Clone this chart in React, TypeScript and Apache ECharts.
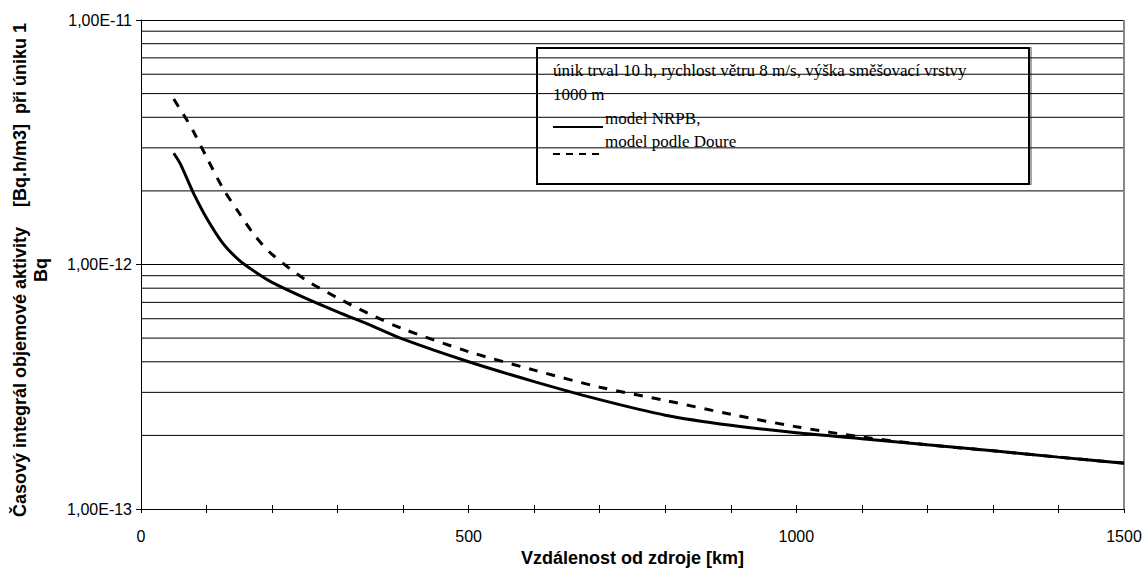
import React, { useEffect, useRef } from "react";
import * as echarts from "echarts";

const distanceKm = [50, 60, 70, 80, 100, 125, 150, 175, 200, 250, 300, 350, 400, 500, 600, 700, 800, 900, 1000, 1100, 1200, 1300, 1400, 1500];
const nrpbValues = [2.85e-12, 2.58e-12, 2.25e-12, 1.96e-12, 1.55e-12, 1.22e-12, 1.04e-12, 9.3e-13, 8.45e-13, 7.3e-13, 6.4e-13, 5.65e-13, 4.95e-13, 4.0e-13, 3.32e-13, 2.8e-13, 2.42e-13, 2.2e-13, 2.05e-13, 1.94e-13, 1.83e-13, 1.73e-13, 1.63e-13, 1.54e-13];
const doureValues = [4.75e-12, 4.3e-12, 3.9e-12, 3.5e-12, 2.75e-12, 2.05e-12, 1.62e-12, 1.3e-12, 1.1e-12, 8.7e-13, 7.3e-13, 6.25e-13, 5.45e-13, 4.4e-13, 3.7e-13, 3.15e-13, 2.78e-13, 2.44e-13, 2.17e-13, 1.97e-13, 1.83e-13, 1.73e-13, 1.63e-13, 1.54e-13];
const minorGridValues = [2e-13, 3e-13, 4e-13, 5e-13, 6e-13, 7e-13, 8e-13, 9e-13, 2e-12, 3e-12, 4e-12, 5e-12, 6e-12, 7e-12, 8e-12, 9e-12];
const xRange = [0, 1500];
const yRange = [1e-13, 1e-11];
const seriesNames = ["model NRPB,", "model podle Doure"];
const legendHeader = ["únik trval 10 h, rychlost větru 8 m/s, výška směšovací vrstvy", "1000 m"];
const yTitle = "Časový integrál objemové aktivity\u00a0\u00a0\u00a0\u00a0[Bq.h/m3]\u00a0\u00a0při úniku 1\nBq";
const xTitle = "Vzdálenost od zdroje [km]";

const SANS = "'Liberation Sans', Arial, sans-serif";
const SERIF = "'Liberation Serif', 'Times New Roman', serif";

function fmtSci(v: number): string {
  const e = Math.round(Math.log10(v));
  const m = v / Math.pow(10, e);
  return m.toFixed(2).replace(".", ",") + "E" + (e < 0 ? "-" : "+") + String(Math.abs(e)).padStart(2, "0");
}

export default function App() {
  const ref = useRef<HTMLDivElement>(null);
  useEffect(() => {
    document.body.style.margin = "0";
    if (!ref.current) return;
    const chart = echarts.init(ref.current, undefined, { renderer: "svg" });
    const xAxisBase = {
      type: "value" as const,
      min: xRange[0],
      max: xRange[1],
      interval: 500,
      position: "bottom" as const,
      splitLine: { show: false },
    };
    const gridSeries = minorGridValues.map((v) => ({
      type: "line",
      silent: true,
      showSymbol: false,
      data: [[xRange[0], v], [xRange[1], v]],
      lineStyle: { color: "#000", width: 1 },
      z: 1,
    }));
    const borderSeries = {
      type: "line",
      silent: true,
      showSymbol: false,
      data: [[xRange[1], yRange[0]], [xRange[1], yRange[1]]],
      lineStyle: { color: "#888", width: 2 },
      z: 1,
    };
    chart.setOption({
      animation: false,
      backgroundColor: "#fff",
      grid: { left: 141, right: 22, top: 20, bottom: 61, containLabel: false, outerBoundsMode: "none" },
      xAxis: [
        {
          ...xAxisBase,
          axisLine: { show: true, lineStyle: { color: "#000", width: 1 } },
          axisTick: { show: true, length: 4, lineStyle: { color: "#000" } },
          minorTick: { show: true, splitNumber: 5, length: 4, lineStyle: { color: "#000" } },
          axisLabel: { color: "#000", fontSize: 16, fontFamily: SANS, margin: 19, formatter: (v: number) => String(v) },
          name: xTitle,
          nameLocation: "middle",
          nameGap: 39,
          nameTextStyle: { color: "#000", fontSize: 18, fontWeight: "bold", fontFamily: SANS },
        },
        {
          ...xAxisBase,
          axisLine: { show: false },
          axisTick: { show: true, inside: true, length: 4, lineStyle: { color: "#000" } },
          minorTick: { show: true, splitNumber: 5, length: 4, lineStyle: { color: "#000" } },
          axisLabel: { show: false },
        },
      ],
      yAxis: {
        type: "log",
        logBase: 10,
        min: yRange[0],
        max: yRange[1],
        axisLine: { show: true, lineStyle: { color: "#000", width: 1 } },
        axisTick: { show: true, length: 5, lineStyle: { color: "#000" } },
        splitLine: { show: true, lineStyle: { color: "#000", width: 1 } },
        axisLabel: { color: "#000", fontSize: 16, fontFamily: SANS, margin: 9, formatter: (v: number) => fmtSci(v) },
      },
      series: [
        ...gridSeries,
        borderSeries,
        {
          name: seriesNames[0],
          type: "line",
          data: distanceKm.map((x, i) => [x, nrpbValues[i]]),
          showSymbol: false,
          smooth: 0.3,
          lineStyle: { color: "#000", width: 3, type: "solid" },
          z: 5,
        },
        {
          name: seriesNames[1],
          type: "line",
          data: distanceKm.map((x, i) => [x, doureValues[i]]),
          showSymbol: false,
          smooth: 0.3,
          lineStyle: { color: "#000", width: 3, type: [9, 9] },
          z: 4,
        },
      ],
      graphic: [
        {
          type: "text",
          x: 30,
          y: 270,
          rotation: Math.PI / 2,
          style: {
            text: yTitle,
            fill: "#000",
            font: "bold 18px " + SANS,
            align: "center",
            verticalAlign: "middle",
            lineHeight: 21,
          },
        },
        {
          type: "group",
          z: 100,
          children: [
            {
              type: "rect",
              shape: { x: 537, y: 48, width: 492, height: 136 },
              style: { fill: "#fff", stroke: "#000", lineWidth: 2, shadowColor: "rgba(0,0,0,0.35)", shadowOffsetX: 2, shadowOffsetY: 0, shadowBlur: 0 },
            },
            {
              type: "text",
              style: { text: legendHeader[0], x: 553, y: 70, fill: "#000", font: "17px " + SERIF, verticalAlign: "middle" },
            },
            {
              type: "text",
              style: { text: legendHeader[1], x: 553, y: 94, fill: "#000", font: "17px " + SERIF, verticalAlign: "middle" },
            },
            {
              type: "line",
              shape: { x1: 553, y1: 127, x2: 603, y2: 127 },
              style: { stroke: "#000", lineWidth: 2 },
            },
            {
              type: "text",
              style: { text: seriesNames[0], x: 605, y: 118, fill: "#000", font: "17px " + SERIF, verticalAlign: "middle" },
            },
            {
              type: "line",
              shape: { x1: 553, y1: 154, x2: 603, y2: 154 },
              style: { stroke: "#000", lineWidth: 2, lineDash: [7, 6] },
            },
            {
              type: "text",
              style: { text: seriesNames[1], x: 605, y: 141, fill: "#000", font: "17px " + SERIF, verticalAlign: "middle" },
            },
          ],
        },
      ],
    });
    return () => chart.dispose();
  }, []);
  return <div ref={ref} style={{ width: 1146, height: 570 }} />;
}
